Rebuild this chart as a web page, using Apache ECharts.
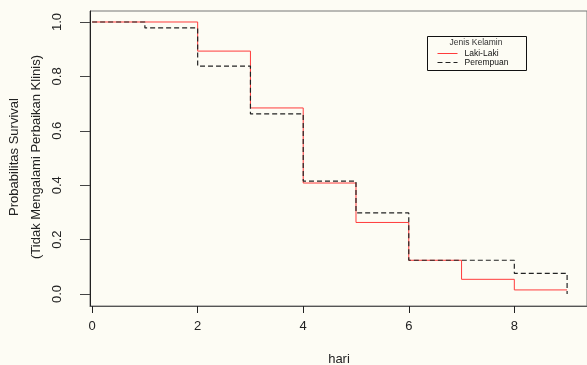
<!DOCTYPE html>
<html>
<head>
<meta charset="utf-8">
<script src="https://cdn.jsdelivr.net/npm/echarts@6/dist/echarts.min.js"></script>
<style>
html,body{margin:0;padding:0;background:#fdfcf4;}
#chart{width:587px;height:365px;}
</style>
</head>
<body>
<div id="chart"></div>
<script>
// Data (Kaplan-Meier step curves)
const timesLaki = [0, 2, 3, 4, 5, 6, 7, 8, 9];
const survLaki  = [1.0, 0.893, 0.684, 0.408, 0.263, 0.124, 0.054, 0.015, 0.015];
const timesPerempuan = [0, 1, 2, 3, 4, 5, 6, 8, 9, 9];
const survPerempuan  = [1.0, 0.978, 0.838, 0.662, 0.415, 0.298, 0.124, 0.076, 0.076, 0.0];
const xTicks = [0, 2, 4, 6, 8];
const yTicks = [0, 0.2, 0.4, 0.6, 0.8, 1.0];
const seriesNames = ['Laki-Laki', 'Perempuan'];
const legendTitle = 'Jenis Kelamin';
const xTitle = 'hari';
const yTitle1 = 'Probabilitas Survival';
const yTitle2 = '(Tidak Mengalami Perbaikan Klinis)';

const zip = (a, b) => a.map((v, i) => [v, b[i]]);
const font = 'Liberation Sans, Arial, sans-serif';

const chart = echarts.init(document.getElementById('chart'), null, {renderer: 'canvas'});
chart.setOption({
  backgroundColor: '#fdfcf4',
  animation: false,
  grid: {left: 90, right: -3, top: 11, bottom: 59, show: true, borderColor: '#777', borderWidth: 1, backgroundColor: 'transparent'},
  xAxis: {
    type: 'value', min: -0.04, max: 9.377,
    splitLine: {show: false},
    axisLine: {show: true, onZero: false, lineStyle: {color: '#555', width: 1}},
    axisTick: {show: true, length: 7, lineStyle: {color: '#222'}, customValues: xTicks},
    axisLabel: {customValues: xTicks, margin: 14, fontSize: 13, color: '#222', fontFamily: font}
  },
  yAxis: {
    type: 'value', min: -0.0441, max: 1.0404,
    splitLine: {show: false},
    axisLine: {show: true, onZero: false, lineStyle: {color: '#222', width: 1}},
    axisTick: {show: true, length: 10, lineStyle: {color: '#444'}, customValues: yTicks},
    axisLabel: {customValues: yTicks, rotate: 90, margin: 26, fontSize: 13, color: '#222', fontFamily: font,
      formatter: v => v.toFixed(1)}
  },
  legend: {
    orient: 'vertical', left: 437, top: 49, padding: 0, itemGap: 0, z: 120,
    itemWidth: 20, itemHeight: 8,
    itemStyle: {opacity: 0},
    lineStyle: {width: 1},
    textStyle: {fontSize: 8.5, color: '#111', fontFamily: font, padding: [0, 0, 0, 2]},
    data: seriesNames
  },
  graphic: [
    {type: 'rect', left: 427, top: 36, shape: {width: 99, height: 34}, style: {fill: '#fdfcf4', stroke: '#111', lineWidth: 1}, z: 90},
    {type: 'text', x: 476, y: 43, z: 100, style: {text: legendTitle, fontSize: 8.5, fill: '#333', fontFamily: font, align: 'center', verticalAlign: 'middle'}},
    {type: 'text', x: 14, y: 157, rotation: Math.PI / 2, z: 100, style: {text: yTitle1, fontSize: 13, fill: '#222', fontFamily: font, align: 'center', verticalAlign: 'middle'}},
    {type: 'text', x: 36, y: 157, rotation: Math.PI / 2, z: 100, style: {text: yTitle2, fontSize: 13, fill: '#222', fontFamily: font, align: 'center', verticalAlign: 'middle'}},
    {type: 'text', x: 339, y: 359, z: 100, style: {text: xTitle, fontSize: 13, fill: '#222', fontFamily: font, align: 'center', verticalAlign: 'middle'}}
  ],
  series: [
    {name: seriesNames[0], type: 'line', step: 'end', symbol: 'none', data: zip(timesLaki, survLaki),
      lineStyle: {color: '#ff3b3b', width: 1}, itemStyle: {color: '#ff3b3b'}, z: 3},
    {name: seriesNames[1], type: 'line', step: 'end', symbol: 'none', data: zip(timesPerempuan, survPerempuan),
      lineStyle: {color: '#222', width: 1.2, type: [5, 3]}, itemStyle: {color: '#222'}, z: 4}
  ]
});
</script>
</body>
</html>
